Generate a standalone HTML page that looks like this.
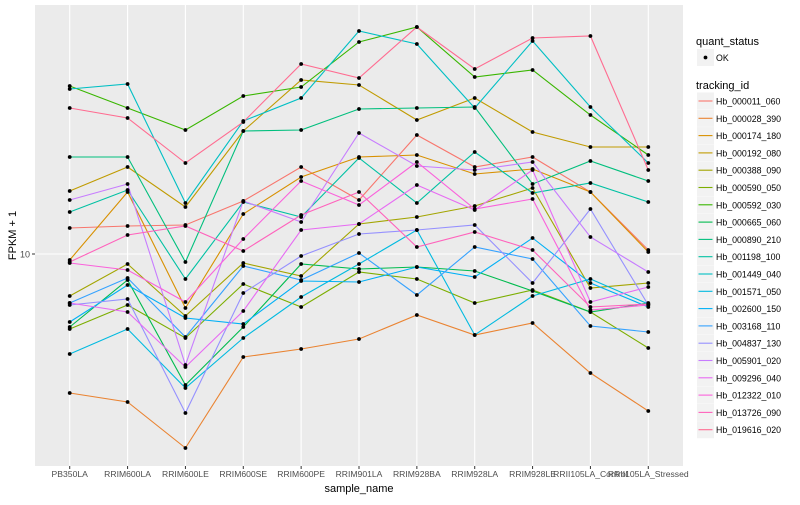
<!DOCTYPE html>
<html><head><meta charset="utf-8">
<style>
body{margin:0;background:#fff;font-family:"Liberation Sans",sans-serif;}
svg text{font-family:"Liberation Sans",sans-serif;}
</style></head>
<body>
<svg id="chart" width="800" height="500" xmlns="http://www.w3.org/2000/svg"></svg>
<script>
const categories=["PB350LA","RRIM600LA","RRIM600LE","RRIM600SE","RRIM600PE","RRIM901LA","RRIM928BA","RRIM928LA","RRIM928LE","RRII105LA_Control","RRII105LA_Stressed"];
const seriesIds=["Hb_000011_060","Hb_000028_390","Hb_000174_180","Hb_000192_080","Hb_000388_090","Hb_000590_050","Hb_000592_030","Hb_000665_060","Hb_000890_210","Hb_001198_100","Hb_001449_040","Hb_001571_050","Hb_002600_150","Hb_003168_110","Hb_004837_130","Hb_005901_020","Hb_009296_040","Hb_012322_010","Hb_013726_090","Hb_019616_020"];
const seriesColors=["#F8766D","#EA8331","#D89000","#C09B00","#A3A500","#7CAE00","#39B600","#00BB4E","#00BF7D","#00C1A3","#00BFC4","#00BAE0","#00B0F6","#35A2FF","#9590FF","#C77CFF","#E76BF3","#FA62DB","#FF62BC","#FF6C91"];
// log10(FPKM + 1) values per series
const s000011=[1.13,1.14,1.145,1.265,1.435,1.27,1.595,1.435,1.485,1.31,1.02];
const s000028=[0.305,0.26,0.03,0.485,0.525,0.575,0.695,0.595,0.655,0.405,0.215];
const s000174=[0.97,1.31,0.73,1.2,1.385,1.485,1.495,1.4,1.425,1.31,1.01];
const s000192=[1.315,1.435,1.235,1.615,1.87,1.845,1.67,1.78,1.61,1.535,1.535];
const s000388=[0.79,0.95,0.69,0.955,0.89,1.15,1.185,1.24,1.33,0.83,0.855];
const s000590=[0.625,0.745,0.58,0.85,0.735,0.91,0.875,0.755,0.82,0.71,0.53];
const s000592=[1.84,1.73,1.62,1.79,1.835,2.06,2.135,1.885,1.92,1.695,1.495];
const s000665=[0.635,0.87,0.345,0.635,0.95,0.925,0.935,0.915,0.815,0.71,0.755];
const s000890=[1.485,1.485,0.96,1.615,1.62,1.725,1.73,1.735,1.35,1.465,1.365];
const s001198=[1.21,1.32,0.875,1.26,1.185,1.48,1.255,1.51,1.305,1.355,1.26];
const s001449=[1.825,1.85,1.255,1.665,1.78,2.115,2.05,1.73,2.065,1.735,1.455];
const s001571=[0.5,0.625,0.33,0.58,0.785,0.95,1.12,0.595,0.79,0.875,0.75];
const s002600=[0.66,0.845,0.68,0.65,0.865,0.86,0.935,0.885,1.08,0.855,0.735];
const s003168=[0.755,0.88,0.585,0.94,0.87,1.005,0.795,1.035,0.975,0.64,0.61];
const s004837=[0.745,0.775,0.205,0.805,0.99,1.1,1.12,1.145,0.855,1.225,0.745];
const s005901=[1.27,1.35,0.445,1.265,1.16,1.605,1.44,1.42,1.46,1.085,0.91];
const s009296=[0.755,0.71,0.435,0.715,1.12,1.15,1.345,1.22,1.42,0.76,0.835];
const s012322=[0.955,0.92,0.76,1.075,1.365,1.245,1.46,1.225,1.275,0.72,0.745];
const s013726=[0.96,1.095,1.14,1.015,1.195,1.31,1.035,1.11,1.02,0.735,0.75];
const s019616=[1.73,1.68,1.455,1.66,1.95,1.88,2.135,1.925,2.08,2.09,1.42];
const seriesValues=[s000011,s000028,s000174,s000192,s000388,s000590,s000592,s000665,s000890,s001198,s001449,s001571,s002600,s003168,s004837,s005901,s009296,s012322,s013726,s019616];
const yTickValues=[1];
const yTickLabels=["10"];

const NS="http://www.w3.org/2000/svg";
const svg=document.getElementById("chart");
const P={l:35,r:683,t:5,b:466};
const step=(P.r-P.l)/(categories.length-1+1.2);
function xPos(i){return P.l+step*(0.6+i);}
function yPos(v){return 254-(v-1)*200;}
function mk(tag,attrs,parent){const e=document.createElementNS(NS,tag);for(const k in attrs)e.setAttribute(k,attrs[k]);(parent||svg).appendChild(e);return e;}

const panel=mk("rect",{x:P.l,y:P.t,width:P.r-P.l,height:P.b-P.t,fill:"#EBEBEB"});


yTickValues.forEach((v,k)=>{
  const g=mk("line",{x1:P.l,x2:P.r,y1:yPos(v),y2:yPos(v),stroke:"#fff","stroke-width":1.1});
  
  
  const t=mk("line",{x1:P.l-3,x2:P.l,y1:yPos(v),y2:yPos(v),stroke:"#333","stroke-width":1});
  
  
  const l=mk("text",{x:P.l-5,y:yPos(v)+3.5,"text-anchor":"end","font-size":"9",fill:"#4D4D4D"});
  l.textContent=yTickLabels[k];
  
  
});
categories.forEach((c,i)=>{
  const g=mk("line",{x1:xPos(i),x2:xPos(i),y1:P.t,y2:P.b,stroke:"#fff","stroke-width":1.1});
  
  
  const t=mk("line",{x1:xPos(i),x2:xPos(i),y1:P.b,y2:P.b+3,stroke:"#333","stroke-width":1});
  
  
  const l=mk("text",{x:xPos(i),y:P.b+11,"text-anchor":"middle","font-size":"8.6",fill:"#4D4D4D"});
  l.textContent=c;
  
  
});
seriesValues.forEach((vals,s)=>{
  const pl=mk("polyline",{points:vals.map((v,i)=>xPos(i)+","+yPos(v)).join(" "),fill:"none",stroke:seriesColors[s],"stroke-width":1.1});
  
  
});
seriesValues.forEach((vals,s)=>{
  vals.forEach((v,i)=>{
    const c=mk("circle",{cx:xPos(i),cy:yPos(v),r:1.9,fill:"#000"});
    
    
  });
});
const xt=mk("text",{x:(P.l+P.r)/2,y:492,"text-anchor":"middle","font-size":"11",fill:"#000"});
xt.textContent="sample_name";


const yt=mk("text",{x:0,y:0,"text-anchor":"middle","font-size":"11",fill:"#000",transform:"translate(16,"+((P.t+P.b)/2)+") rotate(-90)"});
yt.textContent="FPKM + 1";



// legend
const q=mk("text",{x:696,y:45,"font-size":"11",fill:"#000"});
q.textContent="quant_status";


const qk=mk("rect",{x:697,y:49,width:17,height:17,fill:"#F2F2F2"});


const qd=mk("circle",{cx:705.5,cy:57.5,r:1.9,fill:"#000"});


const qt=mk("text",{x:716,y:61,"font-size":"8.8",fill:"#000"});
qt.textContent="OK";


const tt=mk("text",{x:696,y:89,"font-size":"11",fill:"#000"});
tt.textContent="tracking_id";


seriesIds.forEach((id,s)=>{
  const y=92.5+s*17.3;
  const k=mk("rect",{x:697,y:y,width:17,height:17,fill:"#F2F2F2"});
  
  
  const ln=mk("line",{x1:698.5,x2:712.5,y1:y+8.5,y2:y+8.5,stroke:seriesColors[s],"stroke-width":1.1});
  
  
  const t=mk("text",{x:716,y:y+12,"font-size":"8.8",fill:"#000"});
  t.textContent=id;
  
  
});
</script>
</body></html>
